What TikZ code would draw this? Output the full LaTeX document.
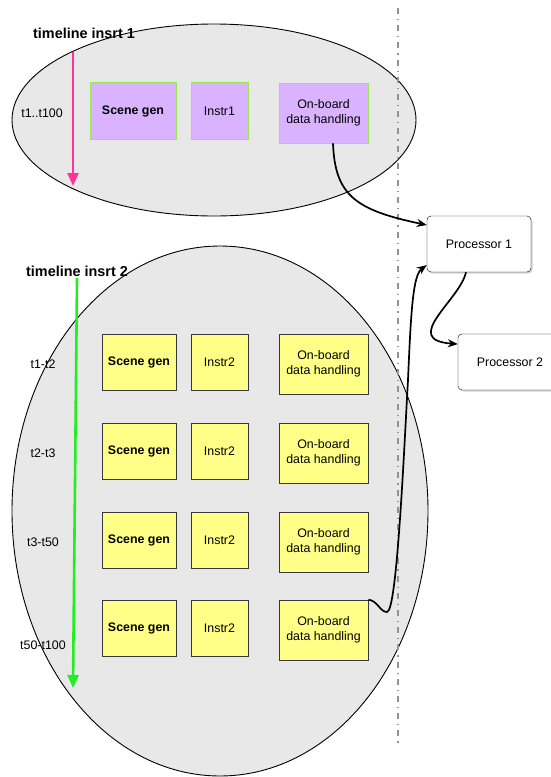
\documentclass[tikz,border=0pt]{standalone}
\usepackage{fontspec}
\setmainfont{Liberation Sans}
\usetikzlibrary{arrows.meta,shadows}
\definecolor{ellgray}{HTML}{E8E8E8}
\definecolor{boxpurple}{HTML}{D9B3FF}
\definecolor{boxgreen}{HTML}{99E64D}
\definecolor{boxyellow}{HTML}{FFFF88}
\definecolor{boxedge}{HTML}{36393D}
\definecolor{tlpink}{HTML}{FF3399}
\definecolor{tlgreen}{HTML}{22EE22}
\tikzset{
  pbox/.style={draw=boxgreen,fill=boxpurple,inner sep=0pt,align=center,line width=0.8pt},
  ybox/.style={draw=boxedge,fill=boxyellow,inner sep=0pt,align=center,line width=0.8pt},
  proc/.style={draw,fill=white,rounded corners=4pt,inner sep=0pt,minimum width=104pt,minimum height=56pt,
    drop shadow={shadow xshift=1.5pt,shadow yshift=-1.5pt,opacity=0.35}},
  link/.style={-{Stealth[length=10pt,width=8pt]},line width=1.7pt},
  tline/.style={-{Triangle[length=13pt,width=11pt]},line width=2.6pt},
  tlabel/.style={font=\fontsize{12.4}{14}\selectfont},
  ttitle/.style={font=\fontsize{14.4}{16}\selectfont\bfseries}
}
\begin{document}
\begin{tikzpicture}[x=1pt,y=-1pt,font=\fontsize{12.4}{14.5}\selectfont]
\useasboundingbox (0,0) rectangle (550,777);

% the two timelines
\draw[fill=ellgray,line width=0.9pt] (214,120) ellipse [x radius=202, y radius=96];
\draw[fill=ellgray,line width=0.9pt] (220,511) ellipse [x radius=208, y radius=265];

% separation line
\coordinate (sepTop) at (398,8);
\coordinate (sepBot) at (398,747);
\draw[gray!85,line width=1.2pt,dash pattern=on 6pt off 5pt on 1.2pt off 5pt] (sepTop) -- (sepBot);

\node[ttitle] (title1) at (84,33) {timeline insrt 1};
\node[ttitle] (title2) at (77,271) {timeline insrt 2};

\coordinate (pinkTop) at (73,52);
\coordinate (pinkBot) at (73,186);
\draw[tline,tlpink] (pinkTop) -- (pinkBot);
\coordinate (greenTop) at (77,278);
\coordinate (greenBot) at (73,688);
\draw[tline,tlgreen] (greenTop) -- (greenBot);

\node[tlabel] (t1) at (42,113) {t1..t100};
\node[tlabel] (t12) at (43,364) {t1-t2};
\node[tlabel] (t23) at (43,453) {t2-t3};
\node[tlabel] (t350) at (43,542) {t3-t50};
\node[tlabel] (t50100) at (43,645) {t50-t100};

% instrument 1
\node[pbox,minimum width=86pt,minimum height=57pt,font=\fontsize{12.4}{14.5}\selectfont\bfseries] (sg1) at (133,111) {Scene gen};
\node[pbox,minimum width=57pt,minimum height=57pt] (in1) at (219.5,111) {Instr1};
\node[pbox,minimum width=89pt,minimum height=60pt] (ob1) at (323.5,113) {On-board\\data handling};

% instrument 2
\node[ybox,minimum width=74pt,minimum height=56pt,font=\fontsize{12.4}{14.5}\selectfont\bfseries] (sgA) at (139,362) {Scene gen};
\node[ybox,minimum width=57pt,minimum height=56pt] (inA) at (219.5,362) {Instr2};
\node[ybox,minimum width=89pt,minimum height=60pt] (obA) at (323.5,364) {On-board\\data handling};

\node[ybox,minimum width=74pt,minimum height=56pt,font=\fontsize{12.4}{14.5}\selectfont\bfseries] (sgB) at (139,451) {Scene gen};
\node[ybox,minimum width=57pt,minimum height=56pt] (inB) at (219.5,451) {Instr2};
\node[ybox,minimum width=89pt,minimum height=60pt] (obB) at (323.5,453) {On-board\\data handling};

\node[ybox,minimum width=74pt,minimum height=56pt,font=\fontsize{12.4}{14.5}\selectfont\bfseries] (sgC) at (139,540) {Scene gen};
\node[ybox,minimum width=57pt,minimum height=56pt] (inC) at (219.5,540) {Instr2};
\node[ybox,minimum width=89pt,minimum height=60pt] (obC) at (323.5,542) {On-board\\data handling};

\node[ybox,minimum width=74pt,minimum height=56pt,font=\fontsize{12.4}{14.5}\selectfont\bfseries] (sgD) at (139,628) {Scene gen};
\node[ybox,minimum width=57pt,minimum height=56pt] (inD) at (219.5,628) {Instr2};
\node[ybox,minimum width=89pt,minimum height=60pt] (obD) at (323.5,630) {On-board\\data handling};

% processors
\node[proc] (proc1) at (479,244) {Processor 1};
\node[proc] (proc2) at (510,362) {Processor 2};

\draw[link] ([xshift=9.5pt]ob1.south) .. controls (335,195) and (355,210) .. (proc1.160);
\draw[link] (obD.north east) .. controls (378,601) and (380,612) .. (387,612)
  .. controls (397,612) and (404,450) .. (408,380)
  .. controls (411,310) and (413,275) .. (proc1.202);
\draw[link] ([xshift=-13pt]proc1.south) .. controls (460,300) and (400,340) .. (proc2.161);

\end{tikzpicture}
\end{document}
